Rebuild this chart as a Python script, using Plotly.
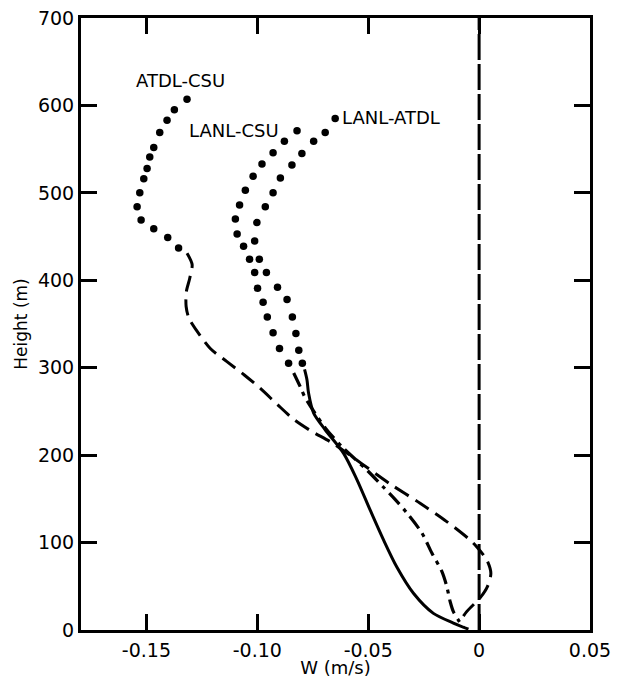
import plotly.graph_objects as go

# ---- data ----
# ATDL-CSU : dotted upper part, dashed lower part
atdl_csu_dot_x = [-0.1317, -0.1374, -0.1407, -0.1440, -0.1467, -0.1485, -0.1497, -0.1512,
                  -0.1530, -0.1542, -0.1524, -0.1467, -0.1404, -0.1355]
atdl_csu_dot_y = [607, 595, 583, 569, 552, 541, 528, 516, 500, 484, 469, 459, 449, 437]
atdl_csu_line_x = [-0.1317, -0.1294, -0.1305, -0.1320, -0.1321, -0.1309, -0.1275, -0.1212,
                   -0.1137, -0.1060, -0.0985, -0.0910, -0.0836, -0.0760, -0.0656, -0.0528,
                   -0.0401, -0.0266, -0.0146, -0.0041, -0.0010, 0.0035, 0.0053, 0.0038,
                   0.0005, -0.0056, -0.0089]
atdl_csu_line_y = [431, 418, 402, 387, 370, 357, 343, 322, 307, 292, 276, 258, 241, 228, 213,
                   190, 167, 145, 124, 103, 95, 80, 65, 50, 37, 21, 9]

# LANL-CSU : dotted upper part, dash-dot lower part
lanl_csu_dot_x = [-0.0821, -0.0878, -0.0929, -0.0979, -0.1019, -0.1054, -0.1080, -0.1099,
                  -0.1091, -0.1062, -0.1035, -0.1012, -0.0999, -0.0974, -0.0955, -0.0929,
                  -0.0900, -0.0859]
lanl_csu_dot_y = [571, 559, 546, 533, 519, 503, 486, 470, 453, 439, 424, 409, 391, 375, 358,
                  340, 322, 305]
lanl_csu_line_x = [-0.0836, -0.0806, -0.0787, -0.0740, -0.0690, -0.0620, -0.0506, -0.0430,
                   -0.0381, -0.0326, -0.0258, -0.0213, -0.0168, -0.0146, -0.0130, -0.0116,
                   -0.0090, -0.0070]
lanl_csu_line_y = [294, 278, 267, 248, 230, 210, 183, 163, 150, 134, 111, 88, 67, 50, 32, 21,
                   10, 3]

# LANL-ATDL : dotted upper part, solid lower part
lanl_atdl_dot_x = [-0.0649, -0.0694, -0.0746, -0.0799, -0.0844, -0.0896, -0.0929, -0.0964,
                   -0.1002, -0.1012, -0.0991, -0.0959, -0.0909, -0.0866, -0.0842, -0.0826,
                   -0.0813, -0.0797]
lanl_atdl_dot_y = [585, 569, 559, 545, 532, 517, 500, 484, 466, 445, 424, 409, 392, 378, 358,
                   339, 320, 305]
lanl_atdl_line_x = [-0.0787, -0.0776, -0.0769, -0.0746, -0.0694, -0.0611, -0.0551, -0.0491,
                    -0.0431, -0.0371, -0.0296, -0.0206, -0.0116, -0.0048]
lanl_atdl_line_y = [298, 286, 271, 248, 229, 202, 172, 137, 103, 72, 42, 19, 8, 1]

zero_x = [0, 0]
zero_y = [0, 700]

x_tick_vals = [-0.15, -0.10, -0.05, 0, 0.05]
x_tick_text = ["-0.15", "-0.10", "-0.05", "0", "0.05"]
y_tick_vals = [0, 100, 200, 300, 400, 500, 600, 700]

labels = ["ATDL-CSU", "LANL-CSU", "LANL-ATDL"]
label_x = [-0.1347, -0.1104, -0.0396]
label_y = [629, 571, 586]

FONT = "DejaVu Sans"
BLACK = "black"

fig = go.Figure()

# zero reference line
fig.add_trace(go.Scatter(x=zero_x, y=zero_y, mode="lines",
                         line=dict(color=BLACK, width=3, dash="26px,4px"),
                         hoverinfo="skip"))

# lines
fig.add_trace(go.Scatter(x=atdl_csu_line_x, y=atdl_csu_line_y, mode="lines",
                         line=dict(color=BLACK, width=3, dash="16px,8px", shape="spline",
                                   smoothing=0.8)))
fig.add_trace(go.Scatter(x=lanl_csu_line_x, y=lanl_csu_line_y, mode="lines",
                         line=dict(color=BLACK, width=3.2, dash="15px,6px,4px,6px",
                                   shape="spline", smoothing=0.8)))
fig.add_trace(go.Scatter(x=lanl_atdl_line_x, y=lanl_atdl_line_y, mode="lines",
                         line=dict(color=BLACK, width=3, shape="spline", smoothing=0.8)))

# dotted parts
for dx, dy in [(atdl_csu_dot_x, atdl_csu_dot_y),
               (lanl_csu_dot_x, lanl_csu_dot_y),
               (lanl_atdl_dot_x, lanl_atdl_dot_y)]:
    fig.add_trace(go.Scatter(x=dx, y=dy, mode="markers",
                             marker=dict(color=BLACK, size=7.5, line=dict(width=0))))

for t, lx, ly in zip(labels, label_x, label_y):
    fig.add_annotation(x=lx, y=ly, text=t, showarrow=False,
                       font=dict(family=FONT, size=18, color=BLACK))

axis_common = dict(showline=True, linecolor=BLACK, linewidth=3, mirror="allticks",
                   ticks="inside", ticklen=16, tickwidth=2.5, tickcolor=BLACK,
                   showgrid=False, zeroline=False, automargin=False,
                   ticklabeloverflow="allow",
                   tickfont=dict(family=FONT, size=19, color=BLACK))

fig.update_xaxes(range=[-0.1795, 0.05], tickvals=x_tick_vals, ticktext=x_tick_text,
                 title=dict(text="W (m/s)", font=dict(family=FONT, size=18, color=BLACK),
                            standoff=7),
                 ticklabelstandoff=1, **axis_common)
fig.update_yaxes(range=[0, 700], tickvals=y_tick_vals,
                 title=dict(text="Height (m)", font=dict(family=FONT, size=17, color=BLACK),
                            standoff=6),
                 ticklabelstandoff=0, **axis_common)

# page body has an 8px default margin, so the figure is 16px smaller than the window
fig.update_layout(width=607, height=670, autosize=False,
                  margin=dict(l=73, r=25, t=10, b=48),
                  paper_bgcolor="white", plot_bgcolor="white",
                  showlegend=False)

fig.write_html("out.html")
